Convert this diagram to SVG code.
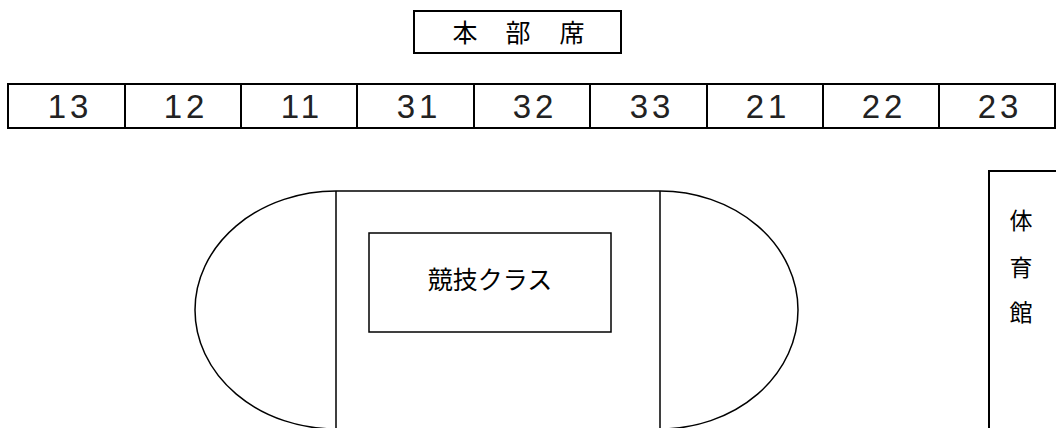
<svg xmlns="http://www.w3.org/2000/svg" width="1056" height="428" viewBox="0 0 1056 428">
<style>
.box{fill:none;stroke:#000;stroke-width:2}
.thin{fill:none;stroke:#000;stroke-width:1.5}
.num{font-family:"Liberation Sans",Arial,sans-serif;font-size:33px;letter-spacing:4px;text-anchor:middle;fill:#222}
.jp{font-family:"Noto Sans CJK JP","Noto Sans CJK SC",sans-serif;fill:#000;text-anchor:middle}
</style>
<rect width="1056" height="428" fill="#fff"/>
<g id="honbuseki">
<rect class="box" x="414" y="11" width="207" height="42"/>
<text class="jp" font-size="25" y="42"><tspan x="465">本</tspan><tspan x="518">部</tspan><tspan x="572">席</tspan></text>
</g>
<g id="seats">
<rect class="box" x="8" y="84" width="1047" height="44"/>
<path class="box" d="M125 84V128M241 84V128M357 84V128M474 84V128M590 84V128M707 84V128M823 84V128M939 84V128"/>
<text class="num" y="118" x="70">13</text>
<text class="num" y="118" x="186">12</text>
<text class="num" y="118" x="302">11</text>
<text class="num" y="118" x="419">31</text>
<text class="num" y="118" x="535">32</text>
<text class="num" y="118" x="652">33</text>
<text class="num" y="118" x="768">21</text>
<text class="num" y="118" x="884">22</text>
<text class="num" y="118" x="1000">23</text>
</g>
<g id="gym">
<path class="box" d="M1056 171H989V428"/>
<text class="jp" font-size="23" x="1021"><tspan x="1021" y="229">体</tspan><tspan x="1021" y="276">育</tspan><tspan x="1021" y="321">館</tspan></text>
</g>
<g id="stadium">
<path class="thin" d="M336 191A141 119 0 0 0 336 429"/>
<path class="thin" d="M660 191A138 119 0 0 1 660 429"/>
<path class="thin" d="M336 191H660M336 191V428M660 191V428"/>
<rect class="thin" x="369" y="233" width="242" height="99"/>
<text class="jp" font-size="25" x="490" y="289">競技クラス</text>
</g>
</svg>
